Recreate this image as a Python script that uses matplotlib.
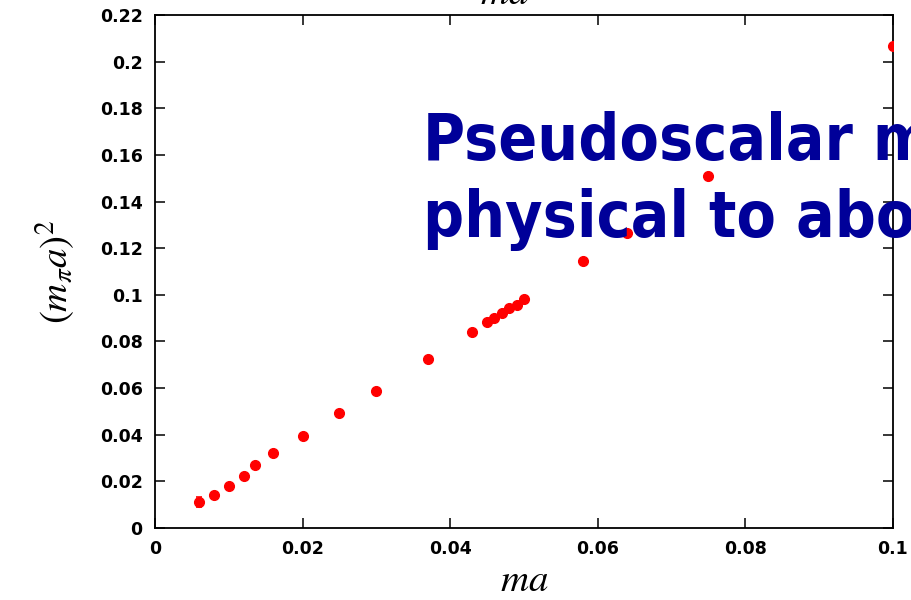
import numpy as np
import matplotlib
matplotlib.use("Agg")
import matplotlib.pyplot as plt

# quark mass vs squared pseudoscalar mass (lattice units)
ma = [0.006, 0.008, 0.010, 0.012, 0.0135, 0.016, 0.020, 0.025, 0.030, 0.037,
      0.043, 0.045, 0.046, 0.047, 0.048, 0.049, 0.050, 0.058, 0.064, 0.075, 0.100]
mpi2 = [0.0111, 0.0142, 0.0180, 0.0223, 0.0270, 0.0322, 0.0395, 0.0493, 0.0587,
        0.0725, 0.0840, 0.0883, 0.0900, 0.0920, 0.0943, 0.0956, 0.0980, 0.1145,
        0.1265, 0.1510, 0.2067]
mpi2_err = [0.0022, 0.0008, 0.0006, 0.0005, 0.0005, 0.0005, 0.0005, 0.0004, 0.0004,
            0.0004, 0.0004, 0.0004, 0.0004, 0.0004, 0.0004, 0.0004, 0.0004, 0.0004,
            0.0004, 0.0004, 0.0004]

xticks = [0, 0.02, 0.04, 0.06, 0.08, 0.1]
xticklabels = ["0", "0.02", "0.04", "0.06", "0.08", "0.1"]
yticks = [0, 0.02, 0.04, 0.06, 0.08, 0.1, 0.12, 0.14, 0.16, 0.18, 0.2, 0.22]
yticklabels = ["0", "0.02", "0.04", "0.06", "0.08", "0.1", "0.12", "0.14",
               "0.16", "0.18", "0.2", "0.22"]

plt.rcParams["mathtext.fontset"] = "stix"

fig = plt.figure(figsize=(9.12, 6), dpi=100)
ax = fig.add_axes([0.170, 0.12, 0.809, 0.855])

ax.errorbar(ma, mpi2, yerr=mpi2_err, fmt="o", color="#ff0000", ms=7,
            ecolor="#ff0000", elinewidth=1.2, capsize=2.5, capthick=1.2,
            zorder=3)

ax.set_xlim(0, 0.1)
ax.set_ylim(0, 0.22)
ax.set_xticks(xticks)
ax.set_xticklabels(xticklabels)
ax.set_yticks(yticks)
ax.set_yticklabels(yticklabels)
for lab in ax.get_xticklabels() + ax.get_yticklabels():
    lab.set_fontfamily("DejaVu Sans")
    lab.set_fontweight("bold")
    lab.set_fontsize(12.5)

ax.tick_params(direction="in", length=7, width=1.1, top=True, right=True,
               pad=9)
for sp in ax.spines.values():
    sp.set_linewidth(1.3)

ax.set_xlabel("$ma$", fontsize=28, labelpad=2)
ax.set_ylabel("$(m_\\pi a)^2$", fontsize=28, labelpad=16)

# cut-off label of the top axis
fig.text(0.553, 1 - 4 / 600, "$ma$", fontsize=28, ha="center", va="baseline")

# overlaid slide text, clipped by the figure edge
fig.text(423 / 912, 1 - 160 / 600, "Pseudoscalar mass", fontsize=46,
         fontweight="bold", fontstretch="condensed", color="#000099",
         family="DejaVu Sans", va="baseline", ha="left")
fig.text(423 / 912, 1 - 237 / 600, "physical to about", fontsize=46,
         fontweight="bold", fontstretch="condensed", color="#000099",
         family="DejaVu Sans", va="baseline", ha="left")

fig.savefig("out.png", dpi=100)
